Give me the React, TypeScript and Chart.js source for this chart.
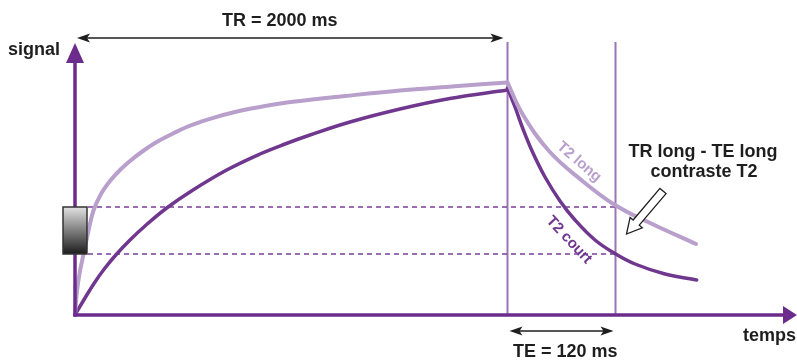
import React, { useEffect, useRef } from "react";
import { Chart, registerables } from "chart.js";

Chart.register(...registerables);

// Time axis (arbitrary units, origin = excitation) and signal (arbitrary units)
const X_MAX = 722;
const Y_MAX = 315;
const TR = 432.5; // end of repetition time
const TE_END = 540.5; // echo time measured after TR
const LEVEL_T2_LONG = 108; // signal of T2 long at TE
const LEVEL_T2_COURT = 61; // signal of T2 court at TE

// Recovery (T1) – light curve (T2 long tissue)
const recLongT = [0, 2, 5, 9, 13, 18.3, 26, 35, 45, 55, 68, 81.7, 97, 111.7, 126, 141.7, 158, 175, 197, 218, 270, 325, 380, 432.5];
const recLongS = [0, 24, 44, 63, 82, 104, 121, 134, 145, 154, 164, 173, 181, 188, 193.3, 198.2, 202.5, 206.2, 210.2, 213.3, 219, 224.5, 228.8, 232.5];

// Recovery (T1) – dark curve (T2 court tissue)
const recCourtT = [0, 10, 20, 30, 41.7, 55, 70, 91.7, 118, 151.7, 185, 210, 235, 275, 325, 375, 432.5];
const recCourtS = [0, 17, 33, 47, 61, 75, 89, 107, 125, 145, 161, 171, 180, 193, 206, 216.5, 225];

// Decay (T2) after TR
const decLongT = [432.5, 447.5, 474, 507.5, 540, 574, 621];
const decLongS = [232.5, 201, 164, 134, 110, 92.5, 71];
const decCourtT = [432.5, 440, 448, 458, 470, 485, 500, 520, 540.7, 560, 590, 621.7];
const decCourtS = [227, 208, 186, 162, 138, 114, 95, 75, 61, 51, 41, 35];

const LIGHT = "#b9a0cc";
const DARK = "#70378f";
const AXIS = "#6b2c8c";
const VLINE = "#9b74b6";
const INK = "#1e1e1e";

const pts = (t: number[], s: number[]) => t.map((x, i) => ({ x, y: s[i] }));

const decorations = {
  id: "decorations",
  beforeDatasetsDraw(chart: any) {
    const { ctx, scales, chartArea } = chart;
    const xs = scales.x;
    const ys = scales.y;
    const base = ys.getPixelForValue(0);
    ctx.save();
    // vertical TR / TE lines
    ctx.strokeStyle = VLINE;
    ctx.lineWidth = 2;
    [TR, TE_END].forEach((v) => {
      const px = xs.getPixelForValue(v);
      ctx.beginPath();
      ctx.moveTo(px, ys.getPixelForValue(273));
      ctx.lineTo(px, base);
      ctx.stroke();
    });
    // dashed level lines
    ctx.strokeStyle = "#7b3f99";
    ctx.lineWidth = 1.6;
    ctx.setLineDash([5, 4]);
    [LEVEL_T2_LONG, LEVEL_T2_COURT].forEach((v) => {
      const py = ys.getPixelForValue(v);
      ctx.beginPath();
      ctx.moveTo(chartArea.left + 13, py);
      ctx.lineTo(xs.getPixelForValue(TE_END), py);
      ctx.stroke();
    });
    ctx.setLineDash([]);
    ctx.restore();
  },
  afterDatasetsDraw(chart: any) {
    const { ctx, scales, chartArea } = chart;
    const xs = scales.x;
    const ys = scales.y;
    const ox = xs.getPixelForValue(0);
    const oy = ys.getPixelForValue(0);
    ctx.save();

    // axes
    ctx.strokeStyle = AXIS;
    ctx.fillStyle = AXIS;
    ctx.lineWidth = 3.5;
    ctx.beginPath();
    ctx.moveTo(ox, oy + 1.5);
    ctx.lineTo(ox, ys.getPixelForValue(260));
    ctx.stroke();
    ctx.beginPath();
    ctx.moveTo(ox, ys.getPixelForValue(272));
    ctx.lineTo(ox - 9, ys.getPixelForValue(252));
    ctx.lineTo(ox + 9, ys.getPixelForValue(252));
    ctx.closePath();
    ctx.fill();
    ctx.beginPath();
    ctx.moveTo(ox - 1.5, oy);
    ctx.lineTo(chartArea.right - 10, oy);
    ctx.stroke();
    ctx.beginPath();
    ctx.moveTo(chartArea.right, oy);
    ctx.lineTo(chartArea.right - 14, oy - 9);
    ctx.lineTo(chartArea.right - 14, oy + 9);
    ctx.closePath();
    ctx.fill();

    // gradient box
    const bTop = ys.getPixelForValue(LEVEL_T2_LONG);
    const bBot = ys.getPixelForValue(LEVEL_T2_COURT);
    const bL = ox - 12;
    const bR = ox + 12;
    const g = ctx.createLinearGradient(0, bTop, 0, bBot);
    g.addColorStop(0, "#e2e2e2");
    g.addColorStop(1, "#1c1c1c");
    ctx.fillStyle = g;
    ctx.fillRect(bL, bTop, bR - bL, bBot - bTop);
    ctx.strokeStyle = "#333";
    ctx.lineWidth = 1.5;
    ctx.strokeRect(bL, bTop, bR - bL, bBot - bTop);

    // double arrows
    const dbl = (x1: number, x2: number, y: number) => {
      ctx.strokeStyle = INK;
      ctx.fillStyle = INK;
      ctx.lineWidth = 1.6;
      ctx.beginPath();
      ctx.moveTo(x1 + 4, y);
      ctx.lineTo(x2 - 4, y);
      ctx.stroke();
      [
        [x1, 1],
        [x2, -1],
      ].forEach(([x, d]) => {
        ctx.beginPath();
        ctx.moveTo(x, y);
        ctx.lineTo(x + d * 13, y - 4.5);
        ctx.lineTo(x + d * 10, y);
        ctx.lineTo(x + d * 13, y + 4.5);
        ctx.closePath();
        ctx.fill();
      });
    };
    dbl(ox + 2, xs.getPixelForValue(TR) - 4, 38);
    dbl(xs.getPixelForValue(TR) + 2, xs.getPixelForValue(TE_END) - 2, 331);

    // texts
    ctx.fillStyle = INK;
    ctx.font = "bold 18px 'Liberation Sans', Arial, sans-serif";
    ctx.textBaseline = "alphabetic";
    ctx.textAlign = "left";
    ctx.fillText("TR = 2000 ms", 222, 26);
    ctx.fillText("signal", 8, 55);
    ctx.fillText("TE = 120 ms", 513, 357);
    ctx.fillText("temps", 743, 341);
    ctx.textAlign = "center";
    ctx.fillText("TR long - TE long", 703, 157);
    ctx.fillText("contraste T2", 704, 177);

    // rotated curve labels
    const rot = (text: string, cx: number, cy: number, deg: number, color: string) => {
      ctx.save();
      ctx.translate(cx, cy);
      ctx.rotate((deg * Math.PI) / 180);
      ctx.fillStyle = color;
      ctx.font = "600 15px 'Liberation Sans', Arial, sans-serif";
      ctx.textAlign = "center";
      ctx.textBaseline = "middle";
      ctx.fillText(text, 0, 0);
      ctx.restore();
    };
    rot("T2 long", 579, 162, 41, LIGHT);
    rot("T2 court", 569, 240, 47, DARK);

    // hollow pointer arrow
    const tx = 626.5, ty = 234, sx = 663, sy = 191;
    const ang = Math.atan2(ty - sy, tx - sx);
    const L = Math.hypot(tx - sx, ty - sy);
    const w = 4, hw = 8, hl = 15;
    ctx.save();
    ctx.translate(sx, sy);
    ctx.rotate(ang);
    ctx.beginPath();
    ctx.moveTo(0, -w);
    ctx.lineTo(L - hl, -w);
    ctx.lineTo(L - hl, -hw);
    ctx.lineTo(L, 0);
    ctx.lineTo(L - hl, hw);
    ctx.lineTo(L - hl, w);
    ctx.lineTo(0, w);
    ctx.closePath();
    ctx.fillStyle = "#fff";
    ctx.fill();
    ctx.strokeStyle = INK;
    ctx.lineWidth = 1.3;
    ctx.stroke();
    ctx.restore();

    ctx.restore();
  },
};

export default function App() {
  const ref = useRef<HTMLCanvasElement>(null);
  useEffect(() => {
    document.body.style.margin = "0";
    const line = (data: any, color: string, width: number) => ({
      data,
      borderColor: color,
      borderWidth: width,
      pointRadius: 0,
      tension: 0.4,
      borderCapStyle: "round" as const,
      borderJoinStyle: "round" as const,
      clip: false as any,
      fill: false,
    });
    const chart = new Chart(ref.current as HTMLCanvasElement, {
      type: "line",
      data: {
        datasets: [
          line(pts(recLongT, recLongS), LIGHT, 4),
          line(pts(decLongT, decLongS), LIGHT, 4),
          line(pts(recCourtT, recCourtS), DARK, 3.5),
          line(pts(decCourtT, decCourtS), DARK, 3.5),
        ],
      },
      options: {
        responsive: false,
        animation: false,
        devicePixelRatio: 1,
        layout: { padding: { left: 75, right: 0, top: 0, bottom: 45 } },
        plugins: { legend: { display: false }, tooltip: { enabled: false } },
        scales: {
          x: { type: "linear", display: false, min: 0, max: X_MAX },
          y: { type: "linear", display: false, min: 0, max: Y_MAX },
        },
      },
      plugins: [decorations],
    });
    return () => chart.destroy();
  }, []);
  return (
    <canvas
      ref={ref}
      width={797}
      height={360}
      style={{ display: "block", width: 797, height: 360 }}
    />
  );
}
